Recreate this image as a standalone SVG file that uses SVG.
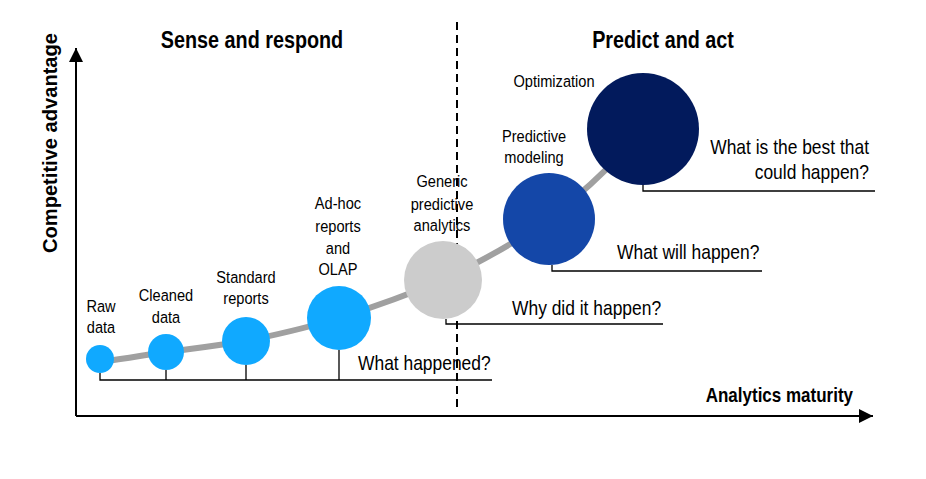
<svg xmlns="http://www.w3.org/2000/svg" width="926" height="479" viewBox="0 0 926 479">
<style>
.lbl{font-family:"Liberation Sans",Arial,sans-serif;font-size:17px;fill:#000;text-anchor:middle}
.q{font-family:"Liberation Sans",Arial,sans-serif;font-size:20.5px;fill:#000}
.ttl{font-family:"Liberation Sans",Arial,sans-serif;font-weight:bold;fill:#000}
.br{fill:none;stroke:#000;stroke-width:1.3}
.blue{fill:#10A9FF}
</style>
<defs>
<marker id="ah" viewBox="0 0 10 10" refX="10" refY="5" markerWidth="16" markerHeight="14" markerUnits="userSpaceOnUse" orient="auto">
<path d="M0,0 L10,5 L0,10 Z" fill="#000"/>
</marker>
</defs>
<rect width="926" height="479" fill="#fff"/>
<g id="axes">
<line x1="76" y1="416" x2="76" y2="48" stroke="#000" stroke-width="2" marker-end="url(#ah)"/>
<line x1="76" y1="416" x2="873" y2="416" stroke="#000" stroke-width="2" marker-end="url(#ah)"/>
<text class="ttl" font-size="20.5" transform="translate(57,143) rotate(-90)" text-anchor="middle" textLength="220" lengthAdjust="spacingAndGlyphs">Competitive advantage</text>
<text class="ttl" font-size="20" transform="translate(853,402) scale(0.85,1)" text-anchor="end">Analytics maturity</text>
<text class="ttl" font-size="23" transform="translate(252,48) scale(0.86,1)" text-anchor="middle">Sense and respond</text>
<text class="ttl" font-size="23" transform="translate(663,48) scale(0.86,1)" text-anchor="middle">Predict and act</text>
</g>
<g id="connectors">
<path d="M100,362 C130,358 150,354 166,352 C200,348 220,345 246,341 C280,334 310,327 339,318 C380,305 410,294 443,280 C480,262 515,243 549,219 C580,195 605,172 625,150" fill="none" stroke="#A0A0A0" stroke-width="6"/>
<line x1="457" y1="22" x2="457" y2="410" stroke="#000" stroke-width="2" stroke-dasharray="8,5"/>
<path class="br" d="M100,373 V380 H492 M166,370 V380 M246,365 V380 M339,350 V380"/>
<path class="br" d="M446,319 V324 H663"/>
<path class="br" d="M552,265 V271 H762"/>
<path class="br" d="M643,185 V191 H875"/>
</g>
<g id="raw">
<circle class="blue" cx="100" cy="359" r="14"/>
<text class="lbl" transform="translate(101,312) scale(0.86,1)">Raw</text>
<text class="lbl" transform="translate(101,333) scale(0.86,1)">data</text>
</g>
<g id="cleaned">
<circle class="blue" cx="166" cy="352" r="18"/>
<text class="lbl" transform="translate(166,301) scale(0.86,1)">Cleaned</text>
<text class="lbl" transform="translate(166,323) scale(0.86,1)">data</text>
</g>
<g id="standard">
<circle class="blue" cx="246" cy="341" r="24"/>
<text class="lbl" transform="translate(246,283) scale(0.86,1)">Standard</text>
<text class="lbl" transform="translate(246,304) scale(0.86,1)">reports</text>
</g>
<g id="adhoc">
<circle class="blue" cx="339" cy="318" r="32"/>
<text class="lbl" transform="translate(338,209) scale(0.86,1)">Ad-hoc</text>
<text class="lbl" transform="translate(338,232) scale(0.86,1)">reports</text>
<text class="lbl" transform="translate(338,254) scale(0.86,1)">and</text>
<text class="lbl" transform="translate(338,275) scale(0.86,1)">OLAP</text>
<text class="q" transform="translate(358,370) scale(0.85,1)">What happened?</text>
</g>
<g id="generic">
<circle cx="443" cy="280" r="39" fill="#CCCCCC"/>
<text class="lbl" transform="translate(442,187) scale(0.86,1)">Generic</text>
<text class="lbl" transform="translate(442,210) scale(0.86,1)">predictive</text>
<text class="lbl" transform="translate(442,231) scale(0.86,1)">analytics</text>
<text class="q" transform="translate(512,315) scale(0.85,1)">Why did it happen?</text>
</g>
<g id="predictive">
<circle cx="549" cy="219" r="46" fill="#1447A8"/>
<text class="lbl" transform="translate(534,142) scale(0.86,1)">Predictive</text>
<text class="lbl" transform="translate(534,163) scale(0.86,1)">modeling</text>
<text class="q" transform="translate(617,259) scale(0.85,1)">What will happen?</text>
</g>
<g id="optimization">
<circle cx="643" cy="129" r="56" fill="#021A5C"/>
<text class="lbl" transform="translate(554,87) scale(0.86,1)">Optimization</text>
<text class="q" transform="translate(869,154) scale(0.85,1)" text-anchor="end">What is the best that</text>
<text class="q" transform="translate(869,179) scale(0.85,1)" text-anchor="end">could happen?</text>
</g>
</svg>
